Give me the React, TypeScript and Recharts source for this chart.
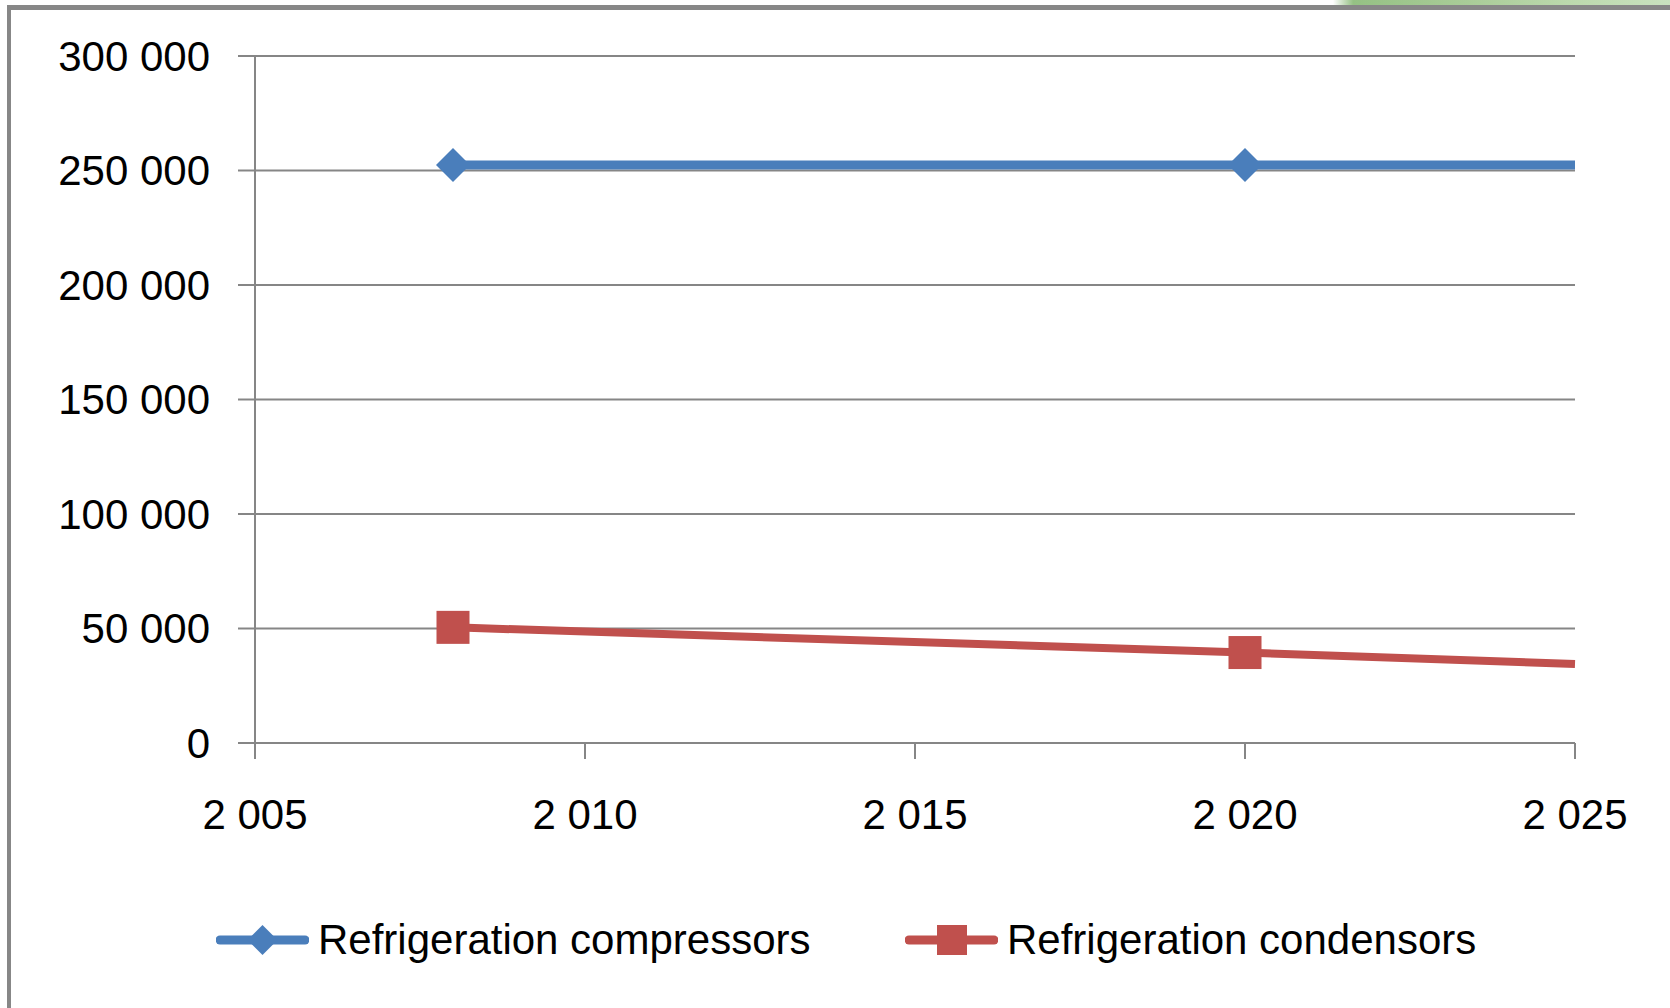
import { CartesianGrid, Legend, Line, LineChart, XAxis, YAxis } from 'recharts';

// values
const years = [2008, 2020, 2025];
const compressors = [252400, 252400, 252400];
const condensors = [50500, 39500, 34500];

const yearTicks = [2005, 2010, 2015, 2020, 2025];
const valueTicks = [0, 50000, 100000, 150000, 200000, 250000, 300000];

const seriesNames = ['Refrigeration compressors', 'Refrigeration condensors'];

const BLUE = '#4A7EBB';
const RED = '#C0504D';
const GRID = '#868686';
const FONT = '"Liberation Sans", Arial, sans-serif';

const data = years.map((year, i) => ({
  year,
  compressors: compressors[i],
  condensors: condensors[i],
}));

// thousands with a space, like "250 000" and "2 005"
const spaced = (v: number) => String(v).replace(/\B(?=(\d{3})+(?!\d))/g, ' ');

const lastIndex = years.length - 1;

function DiamondDot(props: any) {
  const { cx, cy, index } = props;
  if (index === lastIndex || cx == null || cy == null) return <g key={`d-${index}`} />;
  const r = 17;
  return (
    <polygon
      key={`d-${index}`}
      points={`${cx},${cy - r} ${cx + r},${cy} ${cx},${cy + r} ${cx - r},${cy}`}
      fill={BLUE}
      stroke="none"
    />
  );
}

function SquareDot(props: any) {
  const { cx, cy, index } = props;
  if (index === lastIndex || cx == null || cy == null) return <g key={`s-${index}`} />;
  const s = 33;
  return <rect key={`s-${index}`} x={cx - s / 2} y={cy - s / 2} width={s} height={s} fill={RED} />;
}

function LegendMarker({ kind, color }: { kind: 'diamond' | 'square'; color: string }) {
  return (
    <svg width={93} height={40} style={{ display: 'block' }}>
      <line x1={4} y1={20} x2={89} y2={20} stroke={color} strokeWidth={9} strokeLinecap="round" />
      {kind === 'diamond' ? (
        <polygon points="46.5,5 61.5,20 46.5,35 31.5,20" fill={color} />
      ) : (
        <rect x={32} y={5} width={30} height={30} fill={color} />
      )}
    </svg>
  );
}

function ChartLegend() {
  const items = [
    { name: seriesNames[0], color: BLUE, kind: 'diamond' as const, left: 216 },
    { name: seriesNames[1], color: RED, kind: 'square' as const, left: 905 },
  ];
  return (
    <div style={{ position: 'relative', height: 60, width: 1575 }}>
      {items.map((it) => (
        <div
          key={it.name}
          style={{
            position: 'absolute',
            left: it.left,
            top: 0,
            height: 60,
            display: 'flex',
            alignItems: 'center',
            whiteSpace: 'nowrap',
          }}
        >
          <LegendMarker kind={it.kind} color={it.color} />
          <span style={{ marginLeft: 9, fontFamily: FONT, fontSize: 42, color: '#000', lineHeight: '60px' }}>
            {it.name}
          </span>
        </div>
      ))}
    </div>
  );
}

export default function App() {
  return (
    <div style={{ position: 'relative', width: 1670, height: 1008, background: '#fff', overflow: 'hidden' }}>
      <style>{'body{margin:0}'}</style>
      {/* bits of the surrounding page */}
      <div
        style={{
          position: 'absolute',
          left: 1333,
          top: 0,
          width: 337,
          height: 5,
          background: 'linear-gradient(90deg, #ffffff 0%, #95c184 6%, #a9cc98 40%, #bcd9ad 70%, #c9e2bf 100%)',
        }}
      />
      <div style={{ position: 'absolute', left: 7, top: 5, width: 1663, height: 5, background: '#878787' }} />
      <div style={{ position: 'absolute', left: 7, top: 5, width: 4, height: 1003, background: '#878787' }} />

      <div style={{ position: 'absolute', left: 0, top: 0 }}>
        <LineChart
          width={1670}
          height={1008}
          data={data}
          margin={{ top: 56, right: 95, left: 0, bottom: 38 }}
        >
          <CartesianGrid horizontal vertical={false} stroke={GRID} strokeWidth={2} />
          <XAxis
            dataKey="year"
            type="number"
            domain={[2005, 2025]}
            ticks={yearTicks}
            tickFormatter={spaced}
            height={167}
            tickSize={16}
            tickMargin={40}
            axisLine={{ stroke: GRID, strokeWidth: 2 }}
            tickLine={{ stroke: GRID, strokeWidth: 2 }}
            tick={{ fill: '#000', fontSize: 42, fontFamily: FONT }}
            interval={0}
          />
          <YAxis
            type="number"
            domain={[0, 300000]}
            ticks={valueTicks}
            tickFormatter={spaced}
            width={255}
            tickSize={17}
            tickMargin={28}
            axisLine={{ stroke: GRID, strokeWidth: 2 }}
            tickLine={{ stroke: GRID, strokeWidth: 2 }}
            tick={{ fill: '#000', fontSize: 42, fontFamily: FONT }}
            interval={0}
          />
          <Legend verticalAlign="bottom" align="left" content={() => <ChartLegend />} />
          <Line
            type="linear"
            dataKey="compressors"
            name={seriesNames[0]}
            stroke={BLUE}
            strokeWidth={9}
            dot={DiamondDot}
            activeDot={false}
            isAnimationActive={false}
          />
          <Line
            type="linear"
            dataKey="condensors"
            name={seriesNames[1]}
            stroke={RED}
            strokeWidth={8}
            dot={SquareDot}
            activeDot={false}
            isAnimationActive={false}
          />
        </LineChart>
      </div>
    </div>
  );
}
